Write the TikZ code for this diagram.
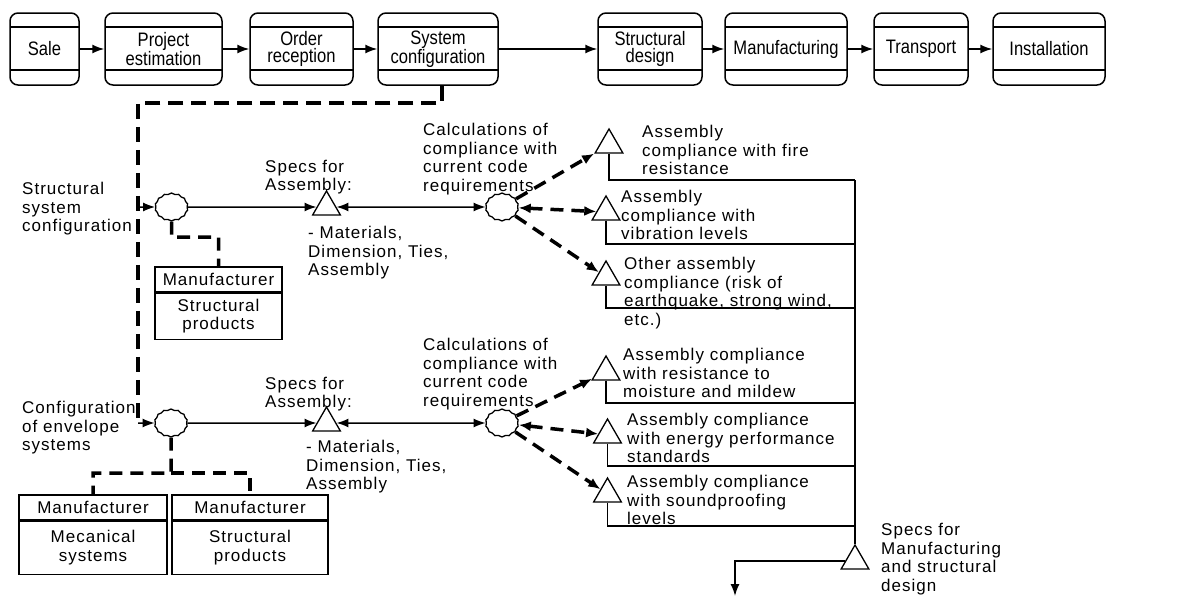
\documentclass[tikz,border=0pt]{standalone}
\usepackage{fontspec}
\setmainfont{Liberation Sans}[LetterSpace=6]
\newfontfamily\stagefont{Liberation Sans}[FakeStretch=0.85]
\newcommand\txtsize{\fontsize{17pt}{18.5pt}\selectfont}
\newcommand\stagesize{\fontsize{19.5pt}{17.5pt}\selectfont}
\usetikzlibrary{arrows.meta,shapes.geometric,shapes.symbols}

\begin{document}
\begin{tikzpicture}[x=1pt,y=-1pt,
  stage/.style={draw, line width=1.5pt, rounded corners=8pt, minimum height=72pt,
    inner sep=0pt, align=center, font=\stagefont\stagesize,
    path picture={
      \draw[line width=1.5pt] ([yshift=-14pt]path picture bounding box.north west)
        -- ([yshift=-14pt]path picture bounding box.north east);
      \draw[line width=1.5pt] ([yshift=15pt]path picture bounding box.south west)
        -- ([yshift=15pt]path picture bounding box.south east);}},
  flow/.style={-{Latex[length=12pt,width=9pt]}, line width=1.5pt},
  both/.style={{Latex[length=12pt,width=9pt]}-{Latex[length=12pt,width=9pt]}, line width=1.5pt},
  maindash/.style={line width=4pt, dash pattern=on 15pt off 8pt},
  linkdash/.style={line width=3.5pt, dash pattern=on 13pt off 8pt},
  dasharrow/.style={-{Latex[length=12pt,width=10pt]}, line width=3.5pt, dash pattern=on 13pt off 8pt},
  dashboth/.style={{Latex[length=12pt,width=10pt]}-{Latex[length=12pt,width=10pt]}, line width=3.5pt, dash pattern=on 13pt off 8pt},
  thinline/.style={line width=1.5pt},
  spec/.style={regular polygon, regular polygon sides=3, draw, line width=1.3pt,
    minimum size=32pt, inner sep=0pt},
  bubble/.style={cloud, cloud puffs=14, cloud puff arc=95, aspect=1.2, draw,
    line width=1.3pt, minimum width=33pt, minimum height=28pt, inner sep=0pt},
  mhead/.style={draw, line width=1.3pt, minimum height=25pt, inner sep=0pt, font=\txtsize},
  mbody/.style={draw, line width=1.3pt, inner sep=0pt, align=center, font=\txtsize, anchor=north},
  note/.style={align=left, anchor=west, inner sep=0pt, font=\txtsize}]

\useasboundingbox (0,0) rectangle (1191,597);

% process chain
\node[stage, minimum width=69pt]  (sale) at (44.5,49)  {Sale};
\node[stage, minimum width=117pt] (est)  at (163.5,49) {Project\\estimation};
\node[stage, minimum width=103pt] (ord)  at (301.5,49) {Order\\reception};
\node[stage, minimum width=120pt] (cfg)  at (438,49)   {System\\configuration};
\node[stage, minimum width=104pt] (sd)   at (650,49)   {Structural\\design};
\node[stage, minimum width=122pt] (mfg)  at (786,49)   {Manufacturing};
\node[stage, minimum width=94pt]  (trn)  at (921,49)   {Transport};
\node[stage, minimum width=112pt] (ins)  at (1049,49)  {Installation};
\foreach \a/\b in {sale/est,est/ord,ord/cfg,cfg/sd,sd/mfg,mfg/trn,trn/ins}
  \draw[flow] (\a) -- (\b);

% configuration activities
\node[bubble] (c1) at (171.5,207) {};
\node[bubble] (c2) at (171,423) {};
\node[bubble] (q1) at (502,207) {};
\node[bubble] (q2) at (502,423) {};

\node[spec] (s1) at (326.5,207) {};
\node[spec] (s2) at (326.5,423) {};
\node[spec] (a1) at (609,145) {};
\node[spec] (a2) at (606,212) {};
\node[spec] (a3) at (606,277) {};
\node[spec] (b1) at (606,372) {};
\node[spec] (b2) at (607.5,435) {};
\node[spec] (b3) at (607.5,494) {};
\node[spec] (bt) at (855,561) {};

% dashed control line from system configuration
\coordinate (d0) at (442,103);
\coordinate (d1) at (138,103);
\coordinate (e1) at (138,207);
\coordinate (e2) at (138,423);
\draw[maindash] ([xshift=4pt]cfg.south) -- (d0) -- (d1) -- (e2);
\draw[flow] (e1) -- (c1);
\draw[flow] (e2) -- (c2);

% manufacturers
\node[mhead, minimum width=127pt] (m1) at (218.5,279.5) {Manufacturer};
\node[mbody, minimum width=127pt, minimum height=46pt] (m1b) at (m1.south) {Structural\\products};
\node[mhead, minimum width=148pt] (m2) at (93,507.5) {Manufacturer};
\node[mbody, minimum width=148pt, minimum height=53pt] (m2b) at (m2.south) {Mecanical\\systems};
\node[mhead, minimum width=156pt] (m3) at (250,507.5) {Manufacturer};
\node[mbody, minimum width=156pt, minimum height=53pt] (m3b) at (m3.south) {Structural\\products};

\coordinate (j1) at (171.5,237);
\draw[linkdash] (c1.south) -- (j1) -| (m1.north);
\coordinate (j2) at (171,473);
\draw[linkdash] (c2.south) -- (j2) -| (m2.north);
\draw[linkdash] (j2) -| (m3.north);

% specs and compliance checks
\draw[flow] (c1) -- (s1);
\draw[both] (s1) -- (q1);
\draw[flow] (c2) -- (s2);
\draw[both] (s2) -- (q2);

\draw[dasharrow] (q1) -- (a1);
\draw[dashboth]  (q1) -- (a2);
\draw[dasharrow] (q1) -- (a3);
\draw[dasharrow] (q2) -- (b1);
\draw[dashboth]  (q2) -- (b2);
\draw[dasharrow] (q2) -- (b3);

% collector towards manufacturing specs
\coordinate (r1) at (855,180);
\coordinate (r2) at (855,244);
\coordinate (r3) at (855,308);
\coordinate (r4) at (855,403);
\coordinate (r5) at (855,466);
\coordinate (r6) at (855,526);
\draw[thinline] (a1.south) |- (r1);
\draw[thinline] (a2.south) |- (r2);
\draw[thinline] (a3.south) |- (r3);
\draw[thinline] (b1.south) |- (r4);
\draw[thinline] (b2.south) |- (r5);
\draw[thinline] (b3.south) |- (r6);
\draw[thinline] (r1) -- (bt.north);
\coordinate (out) at (735,596);
\draw[flow] (bt.west) -| (out);

% labels
\node[note] (lab1) at (22,209) {Structural\\system\\configuration};
\node[note] (lab2) at (22,428) {Configuration\\of envelope\\systems};
\node[note] (sp1) at (265,177) {Specs for\\Assembly:};
\node[note] (sp2) at (265,394) {Specs for\\Assembly:};
\node[note] (mt1) at (308,253) {- Materials,\\Dimension, Ties,\\Assembly};
\node[note] (mt2) at (306,467) {- Materials,\\Dimension, Ties,\\Assembly};
\node[note] (cl1) at (423,159) {Calculations of\\compliance with\\current code\\requirements};
\node[note] (cl2) at (423,374) {Calculations of\\compliance with\\current code\\requirements};
\node[note] (ta1) at (642,150) {Assembly\\compliance with fire\\resistance};
\node[note] (ta2) at (621,215) {Assembly\\compliance with\\vibration levels};
\node[note] (ta3) at (624,293) {Other assembly\\compliance (risk of\\earthquake, strong wind,\\etc.)};
\node[note] (tb1) at (623,373) {Assembly compliance\\with resistance to\\moisture and mildew};
\node[note] (tb2) at (627,438) {Assembly compliance\\with energy performance\\standards};
\node[note] (tb3) at (627,500) {Assembly compliance\\with soundproofing\\levels};
\node[note] (tbt) at (881,559) {Specs for\\Manufacturing\\and structural\\design};
\end{tikzpicture}
\end{document}
